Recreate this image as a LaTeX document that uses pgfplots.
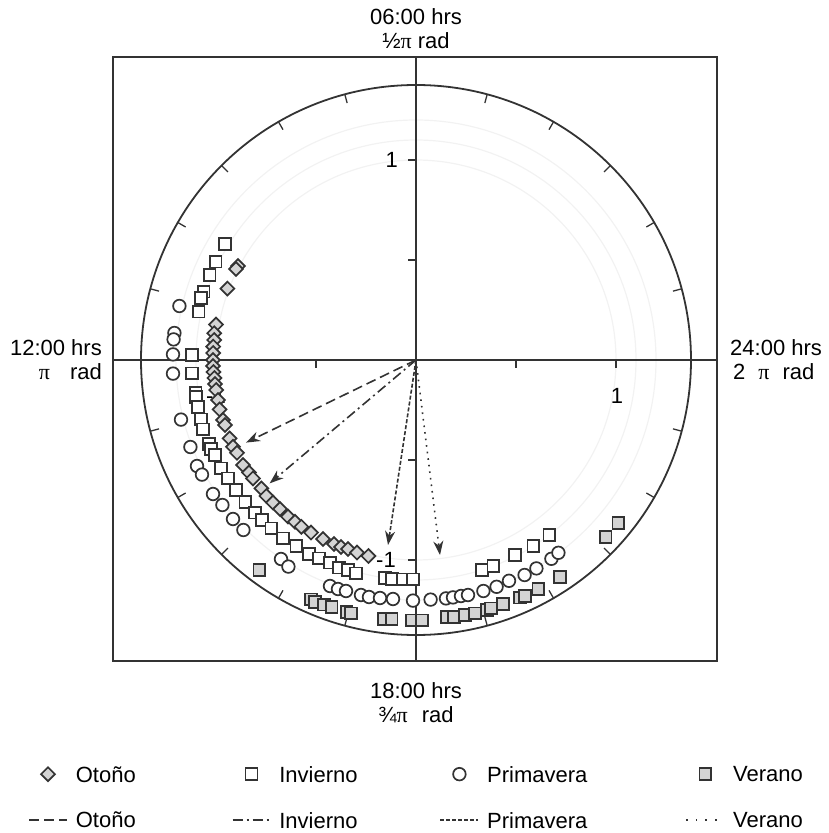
\documentclass[border=0pt]{standalone}
\usepackage{fontspec}
\setmainfont{Liberation Sans}
\newfontfamily\grk{Liberation Serif}
\usepackage{pgfplots}
\pgfplotsset{compat=1.18}
\usetikzlibrary{arrows.meta}

\definecolor{edge}{HTML}{333333}
\definecolor{fillg}{HTML}{D4D4D4}
\definecolor{axln}{HTML}{333333}
\definecolor{faint}{HTML}{F2F2F2}

\pgfplotsset{
  otono/.style={only marks, mark=square*, mark size=4.9pt,
    mark options={rotate=45, draw=edge, fill=fillg, line width=1.7pt}},
  invierno/.style={only marks, mark=square*, mark size=5.9pt,
    mark options={draw=edge, fill=white, line width=1.7pt}},
  primavera/.style={only marks, mark=*, mark size=6.3pt,
    mark options={draw=edge, fill=white, line width=1.7pt}},
  verano/.style={only marks, mark=square*, mark size=5.9pt,
    mark options={draw=edge, fill=fillg, line width=1.7pt}},
  vec/.style={draw=edge, line width=1.6pt, -{Stealth[length=14pt,width=10pt]}},
  markimg/.style={legend image code/.code={\path (0pt,0pt) (38pt,0pt);
    \draw[##1] plot coordinates {(19pt,0pt)};}},
  lineimg/.style={legend image code/.code={\draw[##1] (0pt,0pt) -- (38pt,0pt);}},
}

\begin{document}
\fontsize{22}{24}\selectfont
\begin{tikzpicture}
\useasboundingbox (-113pt,-172pt) rectangle (715pt,661pt);
\begin{axis}[
  scale only axis, width=604pt, height=604pt,
  xmin=-1.515, xmax=1.505, ymin=-1.505, ymax=1.515,
  xtick=\empty, ytick=\empty,
  axis line style={draw=axln, line width=1.8pt},
  clip=false,
  legend columns=4,
  legend cell align=left,
  legend style={
    at={(axis description cs:-0.1407,-0.1738)}, anchor=north west,
    draw=none, fill=none, inner sep=0pt,
    font=\fontsize{22}{24}\selectfont,
    nodes={inner sep=0pt, text depth=0pt},
    row sep=30pt,
    /tikz/every odd column/.append style={column sep=8pt},
    /tikz/column 2/.style={column sep=96pt},
    /tikz/column 4/.style={column sep=82pt},
    /tikz/column 6/.style={column sep=98pt},
  },
]
% faint rings
\draw[faint, line width=1.2pt] (axis cs:0,0) circle[radius=1.0];
\draw[faint, line width=1.2pt] (axis cs:0,0) circle[radius=1.1];
\draw[faint, line width=1.2pt] (axis cs:0,0) circle[radius=1.2];
% cross axes
\draw[axln, line width=1.5pt] (axis cs:0,-1.505) -- (axis cs:0,1.515);
\draw[axln, line width=1.5pt] (axis cs:-1.515,0) -- (axis cs:1.505,0);
\pgfplotsinvokeforeach{-1,-0.5,0.5,1}{
  \draw[axln, line width=1.3pt] (axis cs:-0.04,#1) -- (axis cs:0,#1);
  \draw[axln, line width=1.3pt] (axis cs:#1,0) -- (axis cs:#1,-0.04);
}
% outer circle and hour ticks
\draw[axln, line width=1.8pt] (axis cs:0,0) circle[radius=1.375];
\pgfplotsinvokeforeach{15,30,45,60,75,105,120,135,150,165,195,210,225,240,255,285,300,315,330,345}{
  \draw[axln, line width=1.3pt] (axis cs:{1.375*cos(#1)},{1.375*sin(#1)})
    -- (axis cs:{1.33*cos(#1)},{1.33*sin(#1)});
}
% tick labels
\node[anchor=east, inner sep=0pt] at (axis cs:-0.09,1) {1};
\node[anchor=east, inner sep=0pt] at (axis cs:-0.1,-1) {-1};
\node[anchor=north, inner sep=0pt] at (axis cs:1.005,-0.14) {1};
\node[anchor=north, inner sep=0pt] at (axis cs:-1.0,-0.14) {-1};

% Otoño
\addplot[otono, forget plot] coordinates {
(-0.89,0.47) (-0.90,0.455) (-0.943,0.357) (-1.0,0.177) (-1.009,0.134)
(-1.009,0.10) (-1.014,0.067) (-1.014,0.035) (-1.015,0.0) (-1.015,-0.03)
(-1.013,-0.06) (-1.008,-0.09) (-1.005,-0.12) (-0.999,-0.15) (-0.99,-0.20)
(-0.982,-0.247) (-0.965,-0.30) (-0.955,-0.325) (-0.932,-0.392) (-0.915,-0.434)
(-0.895,-0.464) (-0.865,-0.525) (-0.835,-0.563) (-0.815,-0.592) (-0.773,-0.642)
(-0.748,-0.68) (-0.715,-0.713) (-0.68,-0.745) (-0.64,-0.783) (-0.605,-0.809)
(-0.573,-0.834) (-0.525,-0.863) (-0.465,-0.895) (-0.41,-0.92) (-0.375,-0.935)
(-0.34,-0.945) (-0.295,-0.963) (-0.238,-0.98)
};
% Invierno
\addplot[invierno, forget plot] coordinates {
(-0.954,0.579) (-1.002,0.492) (-1.032,0.425) (-1.062,0.342) (-1.074,0.309)
(-1.087,0.242) (-1.119,0.025) (-1.119,-0.067) (-1.102,-0.164) (-1.099,-0.184)
(-1.09,-0.234) (-1.074,-0.297) (-1.065,-0.347) (-1.035,-0.42) (-1.024,-0.444)
(-1.004,-0.475) (-0.974,-0.542) (-0.94,-0.592) (-0.90,-0.65) (-0.853,-0.709)
(-0.805,-0.763) (-0.77,-0.80) (-0.723,-0.842) (-0.664,-0.892) (-0.598,-0.93)
(-0.535,-0.97) (-0.485,-0.992) (-0.43,-1.013) (-0.385,-1.038) (-0.34,-1.05)
(-0.30,-1.067) (-0.155,-1.09) (-0.12,-1.095) (-0.065,-1.097) (-0.015,-1.097)
(0.329,-1.05) (0.387,-1.03) (0.495,-0.975) (0.587,-0.93) (0.667,-0.875)
};
% Primavera
\addplot[primavera, forget plot] coordinates {
(-1.183,0.27) (-1.208,0.135) (-1.212,0.103) (-1.215,0.028) (-1.215,-0.068)
(-1.175,-0.298) (-1.128,-0.435) (-1.095,-0.53) (-1.07,-0.573) (-1.015,-0.67)
(-0.968,-0.725) (-0.915,-0.795) (-0.863,-0.85) (-0.675,-0.995) (-0.638,-1.033)
(-0.43,-1.13) (-0.39,-1.145) (-0.35,-1.155) (-0.275,-1.175) (-0.235,-1.185)
(-0.18,-1.19) (-0.115,-1.195) (-0.015,-1.203) (0.073,-1.198) (0.15,-1.192)
(0.185,-1.187) (0.225,-1.18) (0.26,-1.175) (0.337,-1.155) (0.403,-1.134)
(0.465,-1.104) (0.543,-1.075) (0.602,-1.042) (0.677,-0.994) (0.712,-0.964)
};
% Verano
\addplot[verano, forget plot] coordinates {
(-0.783,-1.05) (-0.525,-1.197) (-0.505,-1.209) (-0.46,-1.223) (-0.422,-1.235)
(-0.347,-1.259) (-0.326,-1.267) (-0.16,-1.294) (-0.122,-1.294) (-0.022,-1.302)
(0.029,-1.302) (0.154,-1.285) (0.189,-1.285) (0.245,-1.275) (0.295,-1.267)
(0.354,-1.25) (0.375,-1.242) (0.435,-1.221) (0.52,-1.188) (0.544,-1.18)
(0.612,-1.144) (0.72,-1.084) (0.948,-0.884) (1.012,-0.814)
};

% mean vectors
\addplot[vec, dash pattern=on 10pt off 5pt, forget plot] coordinates {(0,0) (-0.85,-0.413)};
\addplot[vec, dash pattern=on 10pt off 4pt on 2pt off 4pt, forget plot] coordinates {(0,0) (-0.732,-0.617)};
\addplot[vec, dash pattern=on 4pt off 2pt, forget plot] coordinates {(0,0) (-0.14,-0.925)};
\addplot[vec, dash pattern=on 1.6pt off 5pt, forget plot] coordinates {(0,0) (0.12,-0.975)};

% hour labels
\node[anchor=south, align=center, inner sep=0pt, yshift=8pt] at (axis cs:0,1.515)
  {06:00 hrs\\½{\grk π} rad};
\node[anchor=north, align=center, inner sep=0pt, yshift=-21pt] at (axis cs:0,-1.505)
  {18:00 hrs\\¾{\grk π}\hspace{14pt}rad};
\node[anchor=east, align=right, inner sep=0pt, xshift=-11pt] at (axis cs:-1.515,0)
  {12:00 hrs\\{\grk π}\hspace{20pt}rad};
\node[anchor=west, align=left, inner sep=0pt, xshift=13pt] at (axis cs:1.505,0)
  {24:00 hrs\\\hspace{3pt}2\hspace{13pt}{\grk π}\hspace{13pt}rad};

% legend
\addlegendimage{otono, markimg}
\addlegendentry{Otoño}
\addlegendimage{invierno, markimg}
\addlegendentry{Invierno}
\addlegendimage{primavera, markimg}
\addlegendentry{Primavera}
\addlegendimage{verano, markimg}
\addlegendentry{Verano}
\addlegendimage{lineimg, draw=edge, line width=1.6pt, dash pattern=on 10pt off 5pt}
\addlegendentry{Otoño}
\addlegendimage{lineimg, draw=edge, line width=1.6pt, dash pattern=on 10pt off 4pt on 2pt off 4pt}
\addlegendentry{Invierno}
\addlegendimage{lineimg, draw=edge, line width=1.6pt, dash pattern=on 4pt off 2pt}
\addlegendentry{Primavera}
\addlegendimage{lineimg, draw=edge, line width=1.6pt, dash pattern=on 1.6pt off 8pt}
\addlegendentry{Verano}
\end{axis}
\end{tikzpicture}
\end{document}
